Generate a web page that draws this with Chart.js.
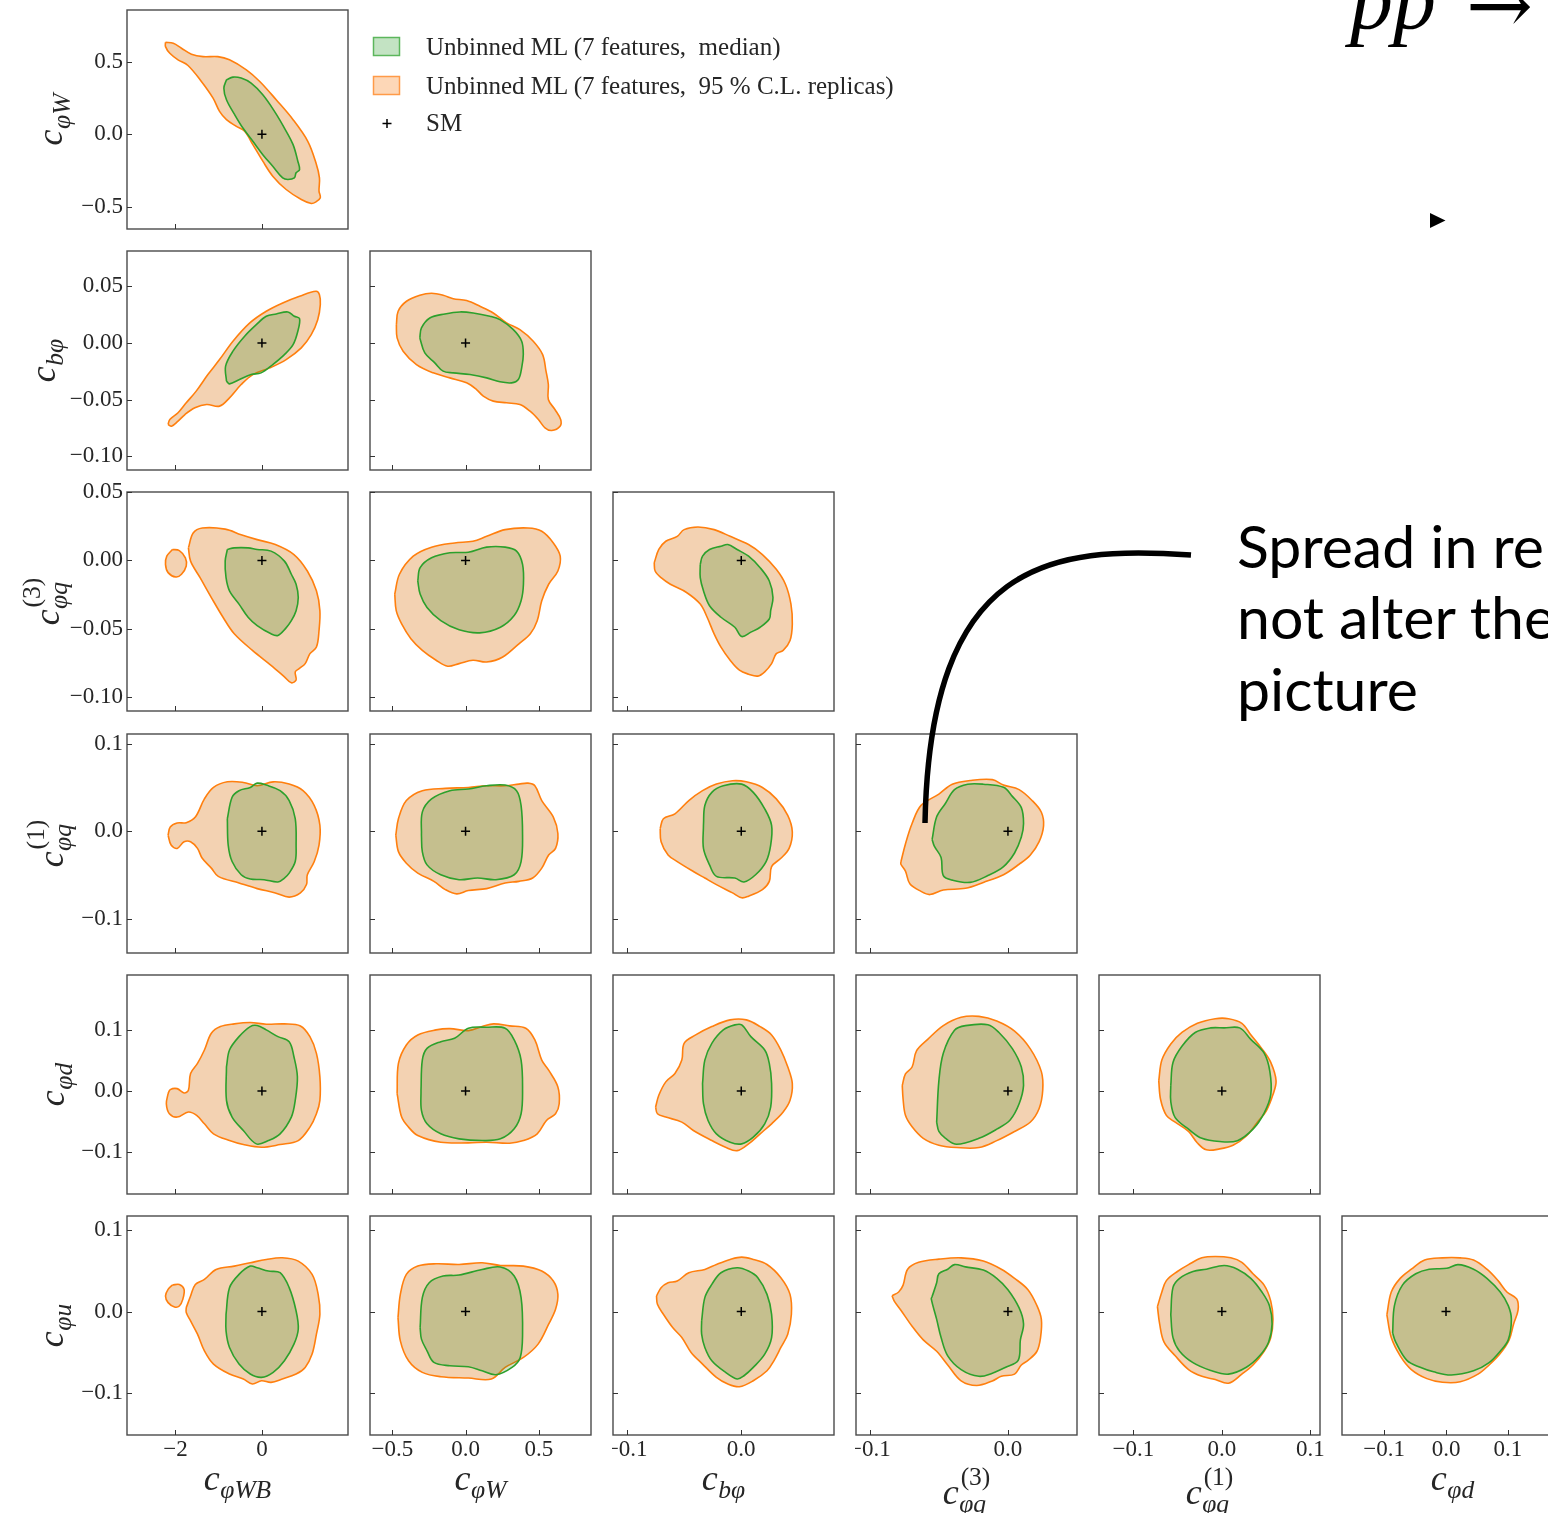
<!DOCTYPE html>
<html><head><meta charset="utf-8">
<script src="https://cdn.jsdelivr.net/npm/chart.js@4.4.1/dist/chart.umd.min.js"></script>
<style>
html,body{margin:0;padding:0;background:#fff;}
body{width:1548px;height:1513px;overflow:hidden;position:relative;}
canvas.pan{position:absolute;}
#ovl{position:absolute;left:0;top:0;pointer-events:none;}
</style></head><body>
<svg id="ovl" width="1548" height="1513" xmlns="http://www.w3.org/2000/svg"></svg>
<script>
// ---------------- DATA ----------------
const PARAMS   = ['WB', 'W', 'bphi', 'q3', 'q1', 'd', 'u'];
const AXIS_MIN = [-3.12, -0.652, -0.112, -0.110, -0.139, -0.168, -0.151];
const AXIS_MAX = [ 1.99,  0.856,  0.081,  0.050,  0.111,  0.189,  0.117];
const TITLE_SUB = ['φWB', 'φW', 'bφ', 'φq', 'φq', 'φd', 'φu'];
const TITLE_SUP = ['', '', '', '(3)', '(1)', '', ''];
const XTICK_VALUES = [[-2, 0], [-0.5, 0, 0.5], [-0.1, 0], [-0.1, 0], [-0.1, 0, 0.1], [-0.1, 0, 0.1]];
const XTICK_LABELS = [['−2', '0'], ['−0.5', '0.0', '0.5'], ['−0.1', '0.0'], ['−0.1', '0.0'], ['−0.1', '0.0', '0.1'], ['−0.1', '0.0', '0.1']];
const YTICK_VALUES = [null, [0.5, 0, -0.5], [0.05, 0, -0.05, -0.1], [0.05, 0, -0.05, -0.1], [0.1, 0, -0.1], [0.1, 0, -0.1], [0.1, 0, -0.1]];
const YTICK_LABELS = [null, ['0.5', '0.0', '−0.5'], ['0.05', '0.00', '−0.05', '−0.10'], ['0.05', '0.00', '−0.05', '−0.10'], ['0.1', '0.0', '−0.1'], ['0.1', '0.0', '−0.1'], ['0.1', '0.0', '−0.1']];
const SM_POINT = [0, 0];
const LEGEND_LABELS = ['Unbinned ML (7 features,  median)', 'Unbinned ML (7 features,  95 % C.L. replicas)', 'SM'];

// contours: [x, y] in parameter units; O_ = 95% C.L. replicas, G_ = median
const O_W_WB = [[-2.23,0.634],[-2.05,0.627],[-1.86,0.593],[-1.63,0.552],[-1.36,0.535],[-1.02,0.535],[-0.75,0.513],[-0.36,0.444],[-0.05,0.364],[0.33,0.238],[0.72,0.101],[1.06,-0.048],[1.25,-0.197],[1.33,-0.300],[1.32,-0.391],[1.35,-0.437],[1.25,-0.465],[1.14,-0.476],[0.91,-0.449],[0.56,-0.380],[0.25,-0.288],[0.02,-0.185],[-0.21,-0.071],[-0.40,0.021],[-0.59,0.055],[-0.82,0.101],[-0.98,0.158],[-1.13,0.249],[-1.40,0.364],[-1.71,0.474],[-1.94,0.513],[-2.13,0.558],[-2.23,0.604]];
const G_W_WB = [[-0.82,0.375],[-0.67,0.394],[-0.48,0.387],[-0.25,0.352],[0.02,0.272],[0.29,0.158],[0.52,0.043],[0.72,-0.071],[0.83,-0.185],[0.87,-0.243],[0.79,-0.265],[0.75,-0.300],[0.60,-0.311],[0.48,-0.300],[0.25,-0.220],[0.02,-0.140],[-0.21,-0.048],[-0.44,0.043],[-0.63,0.135],[-0.82,0.238],[-0.88,0.318]];

const O_B_WB = [[-2.17,-0.0719],[-2.13,-0.0675],[-1.94,-0.0616],[-1.75,-0.0528],[-1.52,-0.0425],[-1.25,-0.0279],[-0.98,-0.0147],[-0.67,0.0015],[-0.28,0.0176],[0.10,0.0279],[0.48,0.0352],[0.87,0.0411],[1.25,0.0455],[1.33,0.0425],[1.35,0.0337],[1.29,0.0205],[1.14,0.0073],[0.91,-0.0044],[0.56,-0.0147],[0.18,-0.0220],[-0.21,-0.0279],[-0.48,-0.0367],[-0.75,-0.0484],[-0.98,-0.0557],[-1.28,-0.0543],[-1.55,-0.0572],[-1.78,-0.0631],[-1.94,-0.0690],[-2.09,-0.0734]];
const G_B_WB = [[-0.82,-0.0337],[-0.84,-0.0205],[-0.67,-0.0073],[-0.40,0.0059],[-0.13,0.0161],[0.10,0.0235],[0.33,0.0255],[0.60,0.0273],[0.75,0.0235],[0.87,0.0214],[0.83,0.0103],[0.72,-0.0015],[0.52,-0.0103],[0.25,-0.0191],[-0.02,-0.0264],[-0.25,-0.0279],[-0.52,-0.0323],[-0.75,-0.0361]];
const O_B_W = [[-0.472,0.0161],[-0.460,0.0279],[-0.403,0.0367],[-0.312,0.0420],[-0.232,0.0437],[-0.153,0.0420],[-0.084,0.0390],[0.007,0.0373],[0.098,0.0323],[0.189,0.0264],[0.280,0.0176],[0.371,0.0117],[0.462,0.0015],[0.526,-0.0103],[0.549,-0.0249],[0.565,-0.0367],[0.565,-0.0499],[0.610,-0.0587],[0.649,-0.0675],[0.645,-0.0734],[0.588,-0.0772],[0.542,-0.0748],[0.497,-0.0675],[0.440,-0.0602],[0.371,-0.0543],[0.280,-0.0528],[0.189,-0.0513],[0.121,-0.0469],[0.075,-0.0411],[0.007,-0.0352],[-0.107,-0.0308],[-0.221,-0.0264],[-0.335,-0.0191],[-0.426,-0.0073],[-0.467,0.0044]];
const G_B_W = [[-0.312,0.0044],[-0.301,0.0132],[-0.244,0.0220],[-0.141,0.0255],[-0.039,0.0273],[0.052,0.0264],[0.166,0.0235],[0.235,0.0205],[0.326,0.0117],[0.383,0.0015],[0.394,-0.0103],[0.383,-0.0220],[0.360,-0.0323],[0.314,-0.0352],[0.235,-0.0343],[0.144,-0.0308],[0.030,-0.0279],[-0.084,-0.0264],[-0.153,-0.0249],[-0.210,-0.0176],[-0.278,-0.0088]];

const O_Q3_WB = [[-1.70,0.0092],[-1.59,0.0200],[-1.38,0.0237],[-0.85,0.0229],[-0.48,0.0188],[-0.11,0.0152],[0.31,0.0116],[0.74,0.0043],[1.05,-0.0077],[1.26,-0.0222],[1.34,-0.0367],[1.32,-0.0512],[1.26,-0.0633],[1.11,-0.0681],[1.00,-0.0754],[0.86,-0.0790],[0.77,-0.0814],[0.79,-0.0874],[0.68,-0.0894],[0.52,-0.0850],[0.21,-0.0766],[-0.22,-0.0657],[-0.64,-0.0536],[-0.90,-0.0415],[-1.17,-0.0271],[-1.43,-0.0126],[-1.65,-0.0005]];
const O2_Q3_WB = [[-2.07,0.0080],[-1.91,0.0072],[-1.77,0.0019],[-1.75,-0.0041],[-1.86,-0.0101],[-1.99,-0.0121],[-2.17,-0.0089],[-2.23,-0.0029],[-2.20,0.0031]];
const G_Q3_WB = [[-0.80,0.0080],[-0.64,0.0092],[-0.32,0.0092],[-0.11,0.0080],[0.21,0.0068],[0.52,-0.0005],[0.68,-0.0101],[0.79,-0.0174],[0.84,-0.0271],[0.79,-0.0367],[0.68,-0.0440],[0.54,-0.0500],[0.37,-0.0548],[0.21,-0.0536],[-0.11,-0.0476],[-0.32,-0.0415],[-0.53,-0.0319],[-0.75,-0.0222],[-0.83,-0.0126],[-0.85,-0.0005]];
const O_Q3_W = [[-0.483,-0.0246],[-0.451,-0.0101],[-0.357,0.0031],[-0.232,0.0097],[-0.075,0.0128],[0.050,0.0140],[0.144,0.0176],[0.270,0.0225],[0.426,0.0237],[0.520,0.0213],[0.599,0.0128],[0.646,0.0031],[0.630,-0.0077],[0.567,-0.0174],[0.520,-0.0295],[0.489,-0.0440],[0.442,-0.0536],[0.364,-0.0609],[0.254,-0.0705],[0.144,-0.0742],[0.050,-0.0729],[-0.044,-0.0754],[-0.122,-0.0773],[-0.201,-0.0729],[-0.295,-0.0657],[-0.373,-0.0572],[-0.436,-0.0464],[-0.473,-0.0367]];
const G_Q3_W = [[-0.326,-0.0150],[-0.310,-0.0053],[-0.232,0.0019],[-0.107,0.0056],[0.019,0.0060],[0.144,0.0097],[0.270,0.0097],[0.348,0.0068],[0.389,-0.0029],[0.395,-0.0174],[0.379,-0.0295],[0.332,-0.0403],[0.238,-0.0488],[0.097,-0.0529],[-0.044,-0.0507],[-0.169,-0.0440],[-0.263,-0.0343],[-0.310,-0.0246]];
const O_Q3_B = [[-0.0760,-0.0017],[-0.0720,0.0080],[-0.0659,0.0140],[-0.0559,0.0176],[-0.0499,0.0225],[-0.0378,0.0244],[-0.0237,0.0225],[-0.0097,0.0176],[0.0064,0.0116],[0.0185,0.0043],[0.0306,-0.0065],[0.0386,-0.0174],[0.0434,-0.0319],[0.0446,-0.0464],[0.0426,-0.0585],[0.0366,-0.0657],[0.0306,-0.0681],[0.0265,-0.0754],[0.0205,-0.0814],[0.0145,-0.0845],[0.0064,-0.0831],[-0.0016,-0.0802],[-0.0097,-0.0729],[-0.0177,-0.0633],[-0.0237,-0.0536],[-0.0298,-0.0415],[-0.0358,-0.0319],[-0.0478,-0.0234],[-0.0619,-0.0174],[-0.0700,-0.0126],[-0.0752,-0.0077]];
const G_Q3_B = [[-0.0358,-0.0029],[-0.0338,0.0031],[-0.0277,0.0080],[-0.0177,0.0104],[-0.0117,0.0116],[-0.0036,0.0080],[0.0064,0.0031],[0.0165,-0.0053],[0.0245,-0.0150],[0.0277,-0.0271],[0.0257,-0.0367],[0.0245,-0.0428],[0.0165,-0.0488],[0.0084,-0.0524],[0.0004,-0.0556],[-0.0056,-0.0488],[-0.0177,-0.0415],[-0.0277,-0.0331],[-0.0330,-0.0222],[-0.0358,-0.0126]];

const O_Q1_WB = [[-2.17,-0.0045],[-2.12,0.0049],[-1.96,0.0094],[-1.75,0.0098],[-1.54,0.0162],[-1.33,0.0369],[-1.12,0.0500],[-0.80,0.0564],[-0.43,0.0557],[-0.11,0.0519],[0.26,0.0564],[0.63,0.0538],[0.95,0.0463],[1.21,0.0293],[1.34,0.0068],[1.32,-0.0158],[1.21,-0.0346],[1.05,-0.0497],[1.03,-0.0609],[0.89,-0.0704],[0.63,-0.0752],[0.31,-0.0704],[-0.11,-0.0655],[-0.53,-0.0591],[-1.01,-0.0515],[-1.17,-0.0421],[-1.38,-0.0309],[-1.49,-0.0196],[-1.65,-0.0120],[-1.80,-0.0120],[-1.96,-0.0196],[-2.10,-0.0158]];
const G_Q1_WB = [[-0.80,0.0143],[-0.69,0.0388],[-0.53,0.0463],[-0.27,0.0500],[-0.11,0.0549],[0.10,0.0527],[0.42,0.0463],[0.63,0.0350],[0.77,0.0143],[0.79,-0.0158],[0.77,-0.0346],[0.63,-0.0478],[0.52,-0.0534],[0.37,-0.0579],[0.05,-0.0553],[-0.27,-0.0546],[-0.48,-0.0497],[-0.69,-0.0346],[-0.78,-0.0158]];
const O_Q1_W = [[-0.476,-0.0045],[-0.458,0.0143],[-0.404,0.0350],[-0.295,0.0463],[-0.138,0.0489],[0.019,0.0500],[0.144,0.0519],[0.270,0.0519],[0.364,0.0538],[0.426,0.0549],[0.473,0.0519],[0.520,0.0350],[0.599,0.0162],[0.630,-0.0026],[0.614,-0.0196],[0.567,-0.0271],[0.520,-0.0421],[0.458,-0.0534],[0.364,-0.0572],[0.270,-0.0591],[0.144,-0.0655],[0.019,-0.0677],[-0.060,-0.0715],[-0.138,-0.0666],[-0.216,-0.0572],[-0.326,-0.0478],[-0.404,-0.0365],[-0.458,-0.0233]];
const G_Q1_W = [[-0.301,-0.0045],[-0.295,0.0218],[-0.232,0.0369],[-0.107,0.0463],[0.019,0.0482],[0.144,0.0519],[0.270,0.0527],[0.348,0.0463],[0.379,0.0293],[0.389,-0.0045],[0.379,-0.0346],[0.332,-0.0497],[0.207,-0.0553],[0.082,-0.0534],[-0.044,-0.0553],[-0.169,-0.0497],[-0.263,-0.0384],[-0.295,-0.0233]];
const O_Q1_B = [[-0.0708,0.0030],[-0.0680,0.0143],[-0.0579,0.0199],[-0.0458,0.0350],[-0.0338,0.0463],[-0.0217,0.0538],[-0.0076,0.0576],[0.0044,0.0564],[0.0185,0.0500],[0.0306,0.0369],[0.0406,0.0181],[0.0446,-0.0008],[0.0418,-0.0196],[0.0346,-0.0309],[0.0265,-0.0403],[0.0245,-0.0572],[0.0185,-0.0666],[0.0064,-0.0741],[0.0004,-0.0760],[-0.0076,-0.0704],[-0.0217,-0.0609],[-0.0318,-0.0534],[-0.0418,-0.0459],[-0.0559,-0.0346],[-0.0639,-0.0271],[-0.0700,-0.0120]];
const G_Q1_B = [[-0.0330,0.0068],[-0.0318,0.0293],[-0.0257,0.0444],[-0.0157,0.0519],[0.0004,0.0538],[0.0105,0.0444],[0.0205,0.0256],[0.0265,0.0068],[0.0257,-0.0158],[0.0217,-0.0346],[0.0125,-0.0497],[0.0024,-0.0579],[-0.0056,-0.0534],[-0.0217,-0.0515],[-0.0277,-0.0384],[-0.0330,-0.0196]];
const O_Q1_Q3 = [[-0.0775,-0.0351],[-0.0742,-0.0145],[-0.0694,0.0088],[-0.0629,0.0295],[-0.0500,0.0424],[-0.0403,0.0537],[-0.0274,0.0579],[-0.0113,0.0589],[-0.0032,0.0527],[0.0081,0.0475],[0.0178,0.0346],[0.0242,0.0217],[0.0258,0.0062],[0.0226,-0.0119],[0.0161,-0.0274],[0.0081,-0.0377],[-0.0032,-0.0496],[-0.0178,-0.0584],[-0.0307,-0.0651],[-0.0468,-0.0671],[-0.0565,-0.0723],[-0.0629,-0.0687],[-0.0710,-0.0599],[-0.0742,-0.0455],[-0.0775,-0.0377]];
const G_Q1_Q3 = [[-0.0549,-0.0093],[-0.0516,0.0165],[-0.0452,0.0320],[-0.0387,0.0475],[-0.0291,0.0537],[-0.0178,0.0537],[-0.0032,0.0501],[0.0032,0.0398],[0.0097,0.0269],[0.0113,0.0088],[0.0097,-0.0067],[0.0048,-0.0248],[-0.0032,-0.0403],[-0.0145,-0.0506],[-0.0274,-0.0584],[-0.0403,-0.0558],[-0.0468,-0.0506],[-0.0484,-0.0300],[-0.0533,-0.0170]];

const O_D_WB = [[-2.17,-0.0044],[-2.12,0.0022],[-1.96,0.0038],[-1.80,-0.0033],[-1.70,0.0011],[-1.65,0.0284],[-1.49,0.0448],[-1.33,0.0667],[-1.17,0.0940],[-0.96,0.1049],[-0.64,0.1093],[-0.27,0.1115],[0.10,0.1087],[0.52,0.1093],[0.89,0.1060],[1.11,0.0885],[1.26,0.0612],[1.34,0.0230],[1.34,-0.0153],[1.26,-0.0372],[1.11,-0.0590],[0.84,-0.0809],[0.42,-0.0874],[-0.01,-0.0918],[-0.43,-0.0874],[-0.75,-0.0809],[-1.12,-0.0699],[-1.33,-0.0536],[-1.51,-0.0399],[-1.70,-0.0344],[-1.96,-0.0426],[-2.14,-0.0372],[-2.21,-0.0208]];
const G_D_WB = [[-0.82,0.0393],[-0.75,0.0667],[-0.53,0.0885],[-0.27,0.1049],[-0.11,0.1066],[0.10,0.0995],[0.37,0.0885],[0.63,0.0803],[0.74,0.0557],[0.82,0.0230],[0.77,-0.0153],[0.68,-0.0426],[0.42,-0.0699],[0.15,-0.0809],[-0.13,-0.0863],[-0.43,-0.0645],[-0.69,-0.0426],[-0.82,-0.0153]];
const O_D_W = [[-0.467,-0.0044],[-0.458,0.0448],[-0.404,0.0749],[-0.326,0.0913],[-0.201,0.0995],[-0.107,0.1016],[0.019,0.0984],[0.113,0.1049],[0.191,0.1093],[0.301,0.1060],[0.411,0.1022],[0.473,0.0831],[0.520,0.0503],[0.567,0.0339],[0.630,0.0066],[0.639,-0.0208],[0.614,-0.0372],[0.552,-0.0481],[0.489,-0.0699],[0.395,-0.0809],[0.301,-0.0852],[0.144,-0.0836],[0.019,-0.0847],[-0.169,-0.0836],[-0.326,-0.0727],[-0.389,-0.0590],[-0.436,-0.0426]];
const G_D_W = [[-0.304,0.0011],[-0.295,0.0503],[-0.263,0.0694],[-0.169,0.0803],[-0.075,0.0858],[0.019,0.1022],[0.144,0.1038],[0.270,0.1022],[0.332,0.0831],[0.379,0.0503],[0.389,0.0011],[0.379,-0.0372],[0.332,-0.0617],[0.238,-0.0781],[0.113,-0.0809],[-0.044,-0.0781],[-0.169,-0.0699],[-0.263,-0.0536],[-0.301,-0.0317]];
const O_D_B = [[-0.0748,-0.0262],[-0.0720,-0.0071],[-0.0659,0.0148],[-0.0579,0.0284],[-0.0519,0.0503],[-0.0499,0.0776],[-0.0398,0.0913],[-0.0257,0.1049],[-0.0097,0.1158],[0.0044,0.1158],[0.0165,0.1049],[0.0265,0.0913],[0.0346,0.0667],[0.0406,0.0393],[0.0446,0.0120],[0.0426,-0.0153],[0.0366,-0.0344],[0.0265,-0.0536],[0.0165,-0.0699],[0.0064,-0.0863],[-0.0036,-0.0973],[-0.0137,-0.0918],[-0.0257,-0.0809],[-0.0418,-0.0645],[-0.0519,-0.0508],[-0.0659,-0.0426],[-0.0732,-0.0372]];
const G_D_B = [[-0.0338,0.0120],[-0.0318,0.0503],[-0.0257,0.0776],[-0.0157,0.0995],[-0.0056,0.1077],[0.0004,0.1077],[0.0084,0.0885],[0.0205,0.0667],[0.0245,0.0448],[0.0265,0.0120],[0.0257,-0.0262],[0.0205,-0.0536],[0.0105,-0.0754],[0.0004,-0.0863],[-0.0097,-0.0836],[-0.0217,-0.0699],[-0.0290,-0.0481],[-0.0330,-0.0208]];
const O_D_Q3 = [[-0.0765,0.0090],[-0.0742,0.0278],[-0.0694,0.0390],[-0.0662,0.0653],[-0.0581,0.0840],[-0.0468,0.1065],[-0.0339,0.1200],[-0.0210,0.1215],[-0.0081,0.1140],[0.0048,0.0975],[0.0161,0.0690],[0.0242,0.0315],[0.0252,0.0015],[0.0226,-0.0285],[0.0161,-0.0510],[0.0048,-0.0660],[-0.0081,-0.0810],[-0.0210,-0.0923],[-0.0371,-0.0923],[-0.0500,-0.0885],[-0.0613,-0.0773],[-0.0694,-0.0585],[-0.0742,-0.0398],[-0.0759,-0.0135]];
const G_D_Q3 = [[-0.0516,-0.0510],[-0.0500,0.0165],[-0.0468,0.0615],[-0.0387,0.0990],[-0.0307,0.1065],[-0.0145,0.1080],[-0.0065,0.0953],[0.0032,0.0690],[0.0097,0.0390],[0.0113,0.0090],[0.0081,-0.0210],[0.0016,-0.0473],[-0.0081,-0.0623],[-0.0210,-0.0773],[-0.0371,-0.0870],[-0.0452,-0.0773],[-0.0500,-0.0660]];
const O_D_Q1 = [[-0.0714,0.0165],[-0.0679,0.0503],[-0.0578,0.0765],[-0.0452,0.0953],[-0.0277,0.1103],[-0.0075,0.1178],[0.0075,0.1178],[0.0226,0.1103],[0.0327,0.0915],[0.0452,0.0690],[0.0553,0.0465],[0.0613,0.0165],[0.0578,-0.0060],[0.0503,-0.0323],[0.0402,-0.0510],[0.0277,-0.0735],[0.0126,-0.0885],[-0.0025,-0.0945],[-0.0176,-0.0960],[-0.0277,-0.0848],[-0.0377,-0.0660],[-0.0528,-0.0510],[-0.0628,-0.0398],[-0.0694,-0.0135]];
const G_D_Q1 = [[-0.0578,0.0090],[-0.0553,0.0465],[-0.0452,0.0728],[-0.0302,0.0953],[-0.0126,0.1028],[0.0025,0.1028],[0.0201,0.1028],[0.0327,0.0840],[0.0478,0.0615],[0.0543,0.0315],[0.0553,-0.0060],[0.0478,-0.0360],[0.0352,-0.0623],[0.0176,-0.0810],[-0.0025,-0.0825],[-0.0226,-0.0773],[-0.0377,-0.0623],[-0.0528,-0.0435],[-0.0578,-0.0173]];

const O_U_WB = [[-1.75,0.0049],[-1.65,0.0191],[-1.54,0.0333],[-1.33,0.0394],[-1.06,0.0516],[-0.64,0.0557],[-0.27,0.0598],[0.10,0.0638],[0.47,0.0659],[0.84,0.0618],[1.16,0.0455],[1.30,0.0211],[1.34,-0.0033],[1.26,-0.0276],[1.16,-0.0520],[1.00,-0.0683],[0.79,-0.0764],[0.47,-0.0825],[0.21,-0.0866],[-0.01,-0.0846],[-0.22,-0.0886],[-0.43,-0.0825],[-0.75,-0.0764],[-1.12,-0.0642],[-1.33,-0.0480],[-1.49,-0.0276],[-1.65,-0.0114],[-1.75,-0.0012]];
const O2_U_WB = [[-2.07,0.0325],[-1.91,0.0333],[-1.80,0.0272],[-1.83,0.0150],[-1.91,0.0069],[-2.02,0.0057],[-2.17,0.0110],[-2.23,0.0191],[-2.17,0.0272]];
const G_U_WB = [[-0.83,-0.0033],[-0.75,0.0293],[-0.53,0.0455],[-0.27,0.0557],[-0.11,0.0537],[0.15,0.0496],[0.42,0.0476],[0.63,0.0293],[0.79,0.0008],[0.84,-0.0215],[0.74,-0.0398],[0.52,-0.0602],[0.26,-0.0744],[-0.01,-0.0805],[-0.27,-0.0764],[-0.53,-0.0642],[-0.75,-0.0439],[-0.83,-0.0236]];
const O_U_W = [[-0.461,-0.0073],[-0.445,0.0211],[-0.404,0.0455],[-0.326,0.0557],[-0.201,0.0585],[-0.044,0.0577],[0.113,0.0598],[0.238,0.0565],[0.395,0.0557],[0.520,0.0496],[0.599,0.0374],[0.630,0.0211],[0.614,0.0028],[0.567,-0.0154],[0.495,-0.0398],[0.395,-0.0561],[0.270,-0.0683],[0.176,-0.0825],[0.019,-0.0813],[-0.169,-0.0797],[-0.295,-0.0744],[-0.389,-0.0602],[-0.445,-0.0358]];
const G_U_W = [[-0.310,-0.0195],[-0.295,0.0171],[-0.248,0.0354],[-0.154,0.0435],[-0.044,0.0447],[0.113,0.0516],[0.238,0.0545],[0.332,0.0435],[0.379,0.0171],[0.389,-0.0276],[0.373,-0.0561],[0.317,-0.0683],[0.207,-0.0772],[0.113,-0.0724],[0.019,-0.0675],[-0.107,-0.0663],[-0.216,-0.0622],[-0.263,-0.0480],[-0.301,-0.0337]];
const O_U_B = [[-0.0740,0.0191],[-0.0700,0.0293],[-0.0639,0.0354],[-0.0559,0.0374],[-0.0458,0.0476],[-0.0318,0.0516],[-0.0217,0.0577],[-0.0097,0.0638],[0.0004,0.0667],[0.0105,0.0638],[0.0225,0.0577],[0.0346,0.0415],[0.0426,0.0211],[0.0438,-0.0033],[0.0406,-0.0276],[0.0346,-0.0439],[0.0285,-0.0602],[0.0225,-0.0724],[0.0105,-0.0846],[-0.0016,-0.0919],[-0.0117,-0.0886],[-0.0217,-0.0805],[-0.0338,-0.0642],[-0.0438,-0.0500],[-0.0519,-0.0317],[-0.0599,-0.0195],[-0.0680,-0.0033],[-0.0732,0.0089]];
const G_U_B = [[-0.0346,-0.0114],[-0.0318,0.0171],[-0.0257,0.0333],[-0.0177,0.0476],[-0.0036,0.0537],[0.0064,0.0496],[0.0145,0.0415],[0.0225,0.0211],[0.0265,-0.0033],[0.0265,-0.0317],[0.0205,-0.0520],[0.0105,-0.0683],[0.0024,-0.0785],[-0.0036,-0.0825],[-0.0137,-0.0744],[-0.0257,-0.0602],[-0.0318,-0.0439],[-0.0346,-0.0276]];
const O_U_Q3 = [[-0.0839,0.0195],[-0.0791,0.0240],[-0.0759,0.0324],[-0.0726,0.0519],[-0.0646,0.0603],[-0.0500,0.0642],[-0.0339,0.0658],[-0.0178,0.0619],[-0.0048,0.0519],[0.0048,0.0407],[0.0145,0.0268],[0.0210,0.0073],[0.0242,-0.0095],[0.0236,-0.0318],[0.0210,-0.0485],[0.0145,-0.0597],[0.0097,-0.0653],[0.0048,-0.0765],[-0.0048,-0.0792],[-0.0113,-0.0848],[-0.0226,-0.0904],[-0.0339,-0.0848],[-0.0436,-0.0653],[-0.0516,-0.0485],[-0.0613,-0.0346],[-0.0694,-0.0179],[-0.0775,0.0017],[-0.0823,0.0128]];
const G_U_Q3 = [[-0.0549,0.0184],[-0.0516,0.0352],[-0.0500,0.0463],[-0.0436,0.0519],[-0.0387,0.0575],[-0.0307,0.0547],[-0.0178,0.0508],[-0.0081,0.0407],[0.0000,0.0268],[0.0081,0.0045],[0.0113,-0.0151],[0.0090,-0.0346],[0.0074,-0.0597],[-0.0016,-0.0681],[-0.0113,-0.0754],[-0.0210,-0.0792],[-0.0339,-0.0709],[-0.0436,-0.0541],[-0.0484,-0.0318],[-0.0516,-0.0095],[-0.0555,0.0156]];
const O_U_Q1 = [[-0.0729,0.0061],[-0.0679,0.0240],[-0.0628,0.0379],[-0.0503,0.0491],[-0.0377,0.0575],[-0.0226,0.0658],[-0.0075,0.0675],[0.0101,0.0658],[0.0226,0.0603],[0.0352,0.0463],[0.0478,0.0324],[0.0553,0.0128],[0.0578,-0.0095],[0.0553,-0.0318],[0.0478,-0.0485],[0.0352,-0.0653],[0.0226,-0.0765],[0.0075,-0.0876],[-0.0075,-0.0832],[-0.0226,-0.0792],[-0.0377,-0.0709],[-0.0528,-0.0541],[-0.0654,-0.0374],[-0.0704,-0.0151]];
const G_U_Q1 = [[-0.0578,-0.0039],[-0.0553,0.0296],[-0.0478,0.0407],[-0.0327,0.0491],[-0.0176,0.0519],[0.0025,0.0564],[0.0176,0.0519],[0.0327,0.0407],[0.0453,0.0240],[0.0538,0.0073],[0.0568,-0.0151],[0.0528,-0.0374],[0.0427,-0.0541],[0.0277,-0.0681],[0.0075,-0.0765],[-0.0126,-0.0720],[-0.0327,-0.0625],[-0.0478,-0.0485],[-0.0553,-0.0318]];
const O_U_D = [[-0.0955,-0.0039],[-0.0884,0.0240],[-0.0740,0.0407],[-0.0560,0.0519],[-0.0345,0.0631],[-0.0057,0.0658],[0.0230,0.0658],[0.0445,0.0631],[0.0661,0.0519],[0.0841,0.0379],[0.0984,0.0240],[0.1142,0.0156],[0.1164,0.0017],[0.1092,-0.0151],[0.1020,-0.0346],[0.0876,-0.0513],[0.0697,-0.0653],[0.0517,-0.0765],[0.0230,-0.0859],[-0.0057,-0.0865],[-0.0309,-0.0820],[-0.0560,-0.0709],[-0.0740,-0.0541],[-0.0884,-0.0318]];
const G_U_D = [[-0.0862,-0.0263],[-0.0833,0.0073],[-0.0704,0.0324],[-0.0489,0.0463],[-0.0273,0.0519],[0.0014,0.0530],[0.0194,0.0575],[0.0445,0.0519],[0.0661,0.0407],[0.0876,0.0240],[0.1006,0.0073],[0.1056,-0.0095],[0.1006,-0.0346],[0.0876,-0.0485],[0.0697,-0.0625],[0.0445,-0.0725],[0.0086,-0.0776],[-0.0201,-0.0737],[-0.0417,-0.0681],[-0.0632,-0.0597],[-0.0812,-0.0374]];

// panel list: row r (y parameter = PARAMS[r+1]), column c (x parameter = PARAMS[c])
const PANELS = [
  {r:0,c:0,o:[O_W_WB],g:G_W_WB},
  {r:1,c:0,o:[O_B_WB],g:G_B_WB},{r:1,c:1,o:[O_B_W],g:G_B_W},
  {r:2,c:0,o:[O_Q3_WB,O2_Q3_WB],g:G_Q3_WB},{r:2,c:1,o:[O_Q3_W],g:G_Q3_W},{r:2,c:2,o:[O_Q3_B],g:G_Q3_B},
  {r:3,c:0,o:[O_Q1_WB],g:G_Q1_WB},{r:3,c:1,o:[O_Q1_W],g:G_Q1_W},{r:3,c:2,o:[O_Q1_B],g:G_Q1_B},{r:3,c:3,o:[O_Q1_Q3],g:G_Q1_Q3},
  {r:4,c:0,o:[O_D_WB],g:G_D_WB},{r:4,c:1,o:[O_D_W],g:G_D_W},{r:4,c:2,o:[O_D_B],g:G_D_B},{r:4,c:3,o:[O_D_Q3],g:G_D_Q3},{r:4,c:4,o:[O_D_Q1],g:G_D_Q1},
  {r:5,c:0,o:[O_U_WB,O2_U_WB],g:G_U_WB},{r:5,c:1,o:[O_U_W],g:G_U_W},{r:5,c:2,o:[O_U_B],g:G_U_B},{r:5,c:3,o:[O_U_Q3],g:G_U_Q3},{r:5,c:4,o:[O_U_Q1],g:G_U_Q1},{r:5,c:5,o:[O_U_D],g:G_U_D}
];

// ---------------- LAYOUT / STYLE ----------------
const COL_X = [127, 370, 613, 856, 1099, 1342];
const ROW_Y = [10, 251, 492, 734, 975, 1216];
const Y_TITLE_X = [62, 55, 59, 63, 64, 63];
const PW = 221, PH = 219;
const SERIF = "'Liberation Serif', 'DejaVu Serif', serif";
const ORANGE_LINE = '#ff7f0e', ORANGE_FILL = '#f3d2b2';
const GREEN_LINE = '#2ca02c', GREEN_FILL = 'rgba(50,135,30,0.24)';
const TEXT_COL = '#262626';

const contourFill = {
  id: 'contourFill',
  beforeDatasetDraw(chart, args) {
    const ds = chart.data.datasets[args.index];
    if (!ds.areaColor) return;
    const line = args.meta.dataset;
    if (!line) return;
    const ctx = chart.ctx, a = chart.chartArea;
    if (typeof line.updateControlPoints === 'function') line.updateControlPoints(a, 'x');
    ctx.save();
    ctx.beginPath(); ctx.rect(a.left, a.top, a.width, a.height); ctx.clip();
    ctx.beginPath();
    line.path(ctx);
    ctx.closePath();
    ctx.fillStyle = ds.areaColor;
    ctx.fill();
    ctx.restore();
  }
};
const frameTicks = {
  id: 'frameTicks',
  afterDraw(chart, args, opts) {
    const {ctx, chartArea: a, scales} = chart;
    ctx.save();
    ctx.strokeStyle = '#4a4a4a'; ctx.lineWidth = 1.4;
    ctx.strokeRect(a.left, a.top, a.width, a.height);
    ctx.lineWidth = 1; ctx.strokeStyle = '#333';
    ctx.beginPath();
    for (const v of opts.xt) { const px = Math.round(scales.x.getPixelForValue(v)) + 0.5; ctx.moveTo(px, a.bottom); ctx.lineTo(px, a.bottom - 5); }
    for (const v of opts.yt) { const py = Math.round(scales.y.getPixelForValue(v)) + 0.5; ctx.moveTo(a.left, py); ctx.lineTo(a.left + 5, py); }
    ctx.stroke();
    ctx.restore();
  }
};

function closeLoop(pts) { const d = pts.map(p => ({x: p[0], y: p[1]})); d.push({x: pts[0][0], y: pts[0][1]}); return d; }
function lbl(vals, labs, v) { for (let i = 0; i < vals.length; i++) if (Math.abs(vals[i] - v) < 1e-9) return labs[i]; return ''; }
function noPad(s) { s.paddingLeft = 0; s.paddingRight = 0; s.paddingTop = 0; s.paddingBottom = 0; }

for (const P of PANELS) {
  const xi = P.c, yi = P.r + 1;
  const padL = P.c === 0 ? 127 : 1, padB = P.r === 5 ? 48 : 1;
  const padT = P.c === 0 ? 14 : 1, padR = P.r === 5 ? 14 : 1;
  const cv = document.createElement('canvas');
  cv.className = 'pan';
  const W = padL + PW + padR, H = padT + PH + padB;
  cv.width = W; cv.height = H;
  cv.style.width = W + 'px'; cv.style.height = H + 'px';
  cv.style.left = (COL_X[P.c] - padL) + 'px';
  cv.style.top = (ROW_Y[P.r] - padT) + 'px';
  document.body.insertBefore(cv, document.getElementById('ovl'));

  const datasets = [];
  datasets.push({data: [{x: SM_POINT[0], y: SM_POINT[1]}], pointStyle: 'cross', pointRadius: 4.5, borderColor: '#000', borderWidth: 1.5, showLine: false});
  datasets.push({data: closeLoop(P.g), showLine: true, borderColor: GREEN_LINE, borderWidth: 1.6, pointRadius: 0, tension: 0.35, fill: false, areaColor: GREEN_FILL});
  for (const o of P.o) datasets.push({data: closeLoop(o), showLine: true, borderColor: ORANGE_LINE, borderWidth: 1.6, pointRadius: 0, tension: 0.35, fill: false, areaColor: ORANGE_FILL});

  const xv = XTICK_VALUES[xi], xl = XTICK_LABELS[xi], yv = YTICK_VALUES[yi], yl = YTICK_LABELS[yi];
  new Chart(cv, {
    type: 'scatter',
    data: {datasets},
    plugins: [contourFill, frameTicks],
    options: {
      responsive: false, animation: false, events: [], devicePixelRatio: 1,
      layout: {autoPadding: false, padding: {top: padT, right: padR, left: 0, bottom: 0}},
      plugins: {legend: {display: false}, tooltip: {enabled: false}, frameTicks: {xt: xv, yt: yv}},
      scales: {
        x: {type: 'linear', position: 'bottom', min: AXIS_MIN[xi], max: AXIS_MAX[xi],
            grid: {display: false, drawTicks: false}, border: {display: false},
            afterBuildTicks: s => { s.ticks = xv.map(v => ({value: v})); },
            afterFit: s => { s.height = padB; noPad(s); },
            ticks: {display: P.r === 5, autoSkip: false, maxRotation: 0, padding: 1, color: TEXT_COL,
                    font: {family: SERIF, size: 23}, callback: v => lbl(xv, xl, v)}},
        y: {type: 'linear', position: 'left', min: AXIS_MIN[yi], max: AXIS_MAX[yi],
            grid: {display: false, drawTicks: false}, border: {display: false},
            afterBuildTicks: s => { s.ticks = yv.map(v => ({value: v})); },
            afterFit: s => { s.width = padL; noPad(s); },
            ticks: {display: P.c === 0, autoSkip: false, padding: 4, color: TEXT_COL,
                    font: {family: SERIF, size: 23}, callback: v => lbl(yv, yl, v)}}
      }
    }
  });
}

// ---------------- OVERLAY: titles, legend, annotation ----------------
const NS = 'http://www.w3.org/2000/svg';
const svg = document.getElementById('ovl');
function el(tag, attrs, parent) { const e = document.createElementNS(NS, tag); for (const k in attrs) e.setAttribute(k, attrs[k]); (parent || svg).appendChild(e); return e; }
function txt(s, attrs, parent) { const t = el('text', attrs, parent); t.textContent = s; return t; }

function mathTitle(idx, ax, ay, vertical) {
  const g = el('g', {});
  const base = {'font-family': SERIF, fill: TEXT_COL};
  const c = txt('c', Object.assign({x: 0, y: 0, 'font-size': 36, 'font-style': 'italic'}, base), g);
  const cw = c.getComputedTextLength();
  const sb = txt(TITLE_SUB[idx], Object.assign({x: cw + 0.5, y: 8, 'font-size': 25.5, 'font-style': 'italic'}, base), g);
  let w = cw + 0.5 + sb.getComputedTextLength();
  if (TITLE_SUP[idx]) {
    const sp = txt(TITLE_SUP[idx], Object.assign({x: cw + 2, y: -19, 'font-size': 25.5}, base), g);
    w = Math.max(w, cw + 2 + sp.getComputedTextLength());
  }
  if (vertical) g.setAttribute('transform', `translate(${ax},${ay}) rotate(-90) translate(${-w / 2},0)`);
  else g.setAttribute('transform', `translate(${ax - w / 2},${ay})`);
}
for (let c = 0; c < 6; c++) mathTitle(c, COL_X[c] + PW / 2, TITLE_SUP[c] ? 1504 : 1490, false);
for (let r = 0; r < 6; r++) mathTitle(r + 1, Y_TITLE_X[r], ROW_Y[r] + PH / 2, true);

// legend
el('rect', {x: 373.5, y: 37.5, width: 26, height: 18, fill: '#c3e3c3', stroke: '#5cb65c', 'stroke-width': 1.5});
el('rect', {x: 373.5, y: 76.5, width: 26, height: 18, fill: '#fdd7b7', stroke: '#ff9a48', 'stroke-width': 1.5});
el('path', {d: 'M382.5,123.5 h9 M387,119 v9', stroke: '#000', 'stroke-width': 1.5});
const legY = [55, 94, 131];
LEGEND_LABELS.forEach((s, i) => txt(s, {x: 426, y: legY[i], 'font-family': SERIF, 'font-size': 25, fill: TEXT_COL, style: 'white-space:pre'}));

// annotation
el('path', {d: 'M1191,555 C1050,545 930,560 925,823', fill: 'none', stroke: '#000', 'stroke-width': 5.5});
const ann = ['Spread in re', 'not alter the', 'picture'];
const annY = [568, 639, 711];
ann.forEach((s, i) => txt(s, {x: 1237, y: annY[i], 'font-family': "Lato, 'Open Sans', sans-serif", 'font-size': 59, fill: '#000'}));
txt('pp', {x: 1350, y: 28, 'font-family': SERIF, 'font-size': 86, 'font-style': 'italic', fill: '#000'});
txt('→', {x: 1466, y: 33, 'font-family': "'DejaVu Serif', serif", 'font-size': 80, fill: '#000'});
el('polygon', {points: '1430,213 1445.5,220.5 1430,228', fill: '#000'});
</script>
</body></html>
